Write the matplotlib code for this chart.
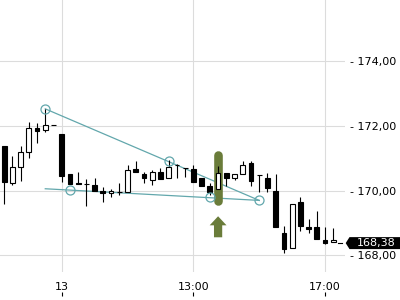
import numpy as np
import matplotlib
matplotlib.use("Agg")
import matplotlib.pyplot as plt
from matplotlib.patches import Polygon
from matplotlib.ticker import FuncFormatter
import matplotlib.transforms as mtransforms

# ---------------------------------------------------------------
# Data: 15-minute candles (index 0..40)
# ---------------------------------------------------------------
opens = [171.39, 170.24, 170.73, 171.20, 171.94, 171.88, 172.04, 171.76,
         170.53, 170.25, 170.21, 170.19, 170.00, 169.93, 169.96, 169.95,
         170.68, 170.53, 170.34, 170.57, 170.40, 170.78, 170.70, 170.67,
         170.40, 170.15, 170.06, 170.56, 170.40, 170.53, 170.87, 170.49,
         170.39, 170.00, 168.69, 168.22, 169.65, 168.87, 168.88, 168.49,
         168.41]
highs = [171.39, 171.08, 171.39, 172.13, 172.09, 172.53, 172.04, 171.76,
         170.53, 170.59, 170.36, 170.40, 170.11, 170.05, 170.24, 170.80,
         170.93, 170.57, 170.65, 170.70, 170.96, 170.83, 170.70, 170.81,
         170.40, 170.25, 170.75, 170.56, 170.53, 170.93, 170.92, 170.49,
         170.55, 170.53, 168.91, 169.60, 169.81, 169.13, 169.37, 168.88,
         168.86]
lows = [169.60, 170.19, 170.29, 171.00, 171.47, 171.81, 172.04, 170.26,
        170.22, 170.22, 169.54, 169.99, 169.66, 169.81, 169.88, 169.95,
        170.57, 170.25, 170.19, 170.37, 170.40, 170.40, 170.41, 170.27,
        170.16, 169.88, 170.06, 170.16, 170.34, 170.53, 170.16, 169.95,
        169.95, 168.88, 168.06, 168.22, 168.76, 168.69, 168.51, 168.35,
        168.41]
closes = [170.26, 170.72, 171.20, 171.94, 171.86, 172.04, 172.04, 170.44,
          170.22, 170.22, 170.21, 169.99, 169.93, 170.00, 169.96, 170.63,
          170.57, 170.38, 170.57, 170.37, 170.73, 170.78, 170.70, 170.27,
          170.16, 169.97, 170.55, 170.38, 170.53, 170.81, 170.30, 170.49,
          170.07, 168.88, 168.20, 169.60, 168.90, 168.83, 168.51, 168.37,
          168.48]

# x-axis labels (candle index -> label)
xtick_idx = [7, 23, 39]
xtick_labels = ["13", "13:00", "17:00"]
yticks = [168, 170, 172, 174]

# trend lines (start/end as (index, price)) and anchor circles
trend_upper = [(5, 172.53), (31, 169.70)]
trend_lower = [(5, 170.06), (31, 169.70)]
anchor_idx = [5, 20, 8, 25, 31]
anchor_price = [172.53, 170.92, 170.02, 169.79, 169.70]

signal_idx = 26          # highlighted candle with up arrow
last_price = 168.38

teal = "#62a7ac"
olive = "#6a7c3a"
grid_c = "#dcdcdc"

# ---------------------------------------------------------------
# Figure
# ---------------------------------------------------------------
fig = plt.figure(figsize=(4, 3), dpi=100)
ax = fig.add_axes([0, 28 / 300, 345 / 400, 272 / 300])
ax.set_xlim(-0.5, 41.42)
ax.set_ylim(167.487, 175.895)

for s in ax.spines.values():
    s.set_visible(False)

ax.set_yticks(yticks)
ax.yaxis.tick_right()
ax.yaxis.set_major_formatter(FuncFormatter(lambda v, p: "- " + f"{v:.2f}".replace(".", ",")))
ax.tick_params(axis="y", length=0, pad=3.3, labelsize=8)
ax.set_xticks(xtick_idx)
ax.set_xticklabels(xtick_labels)
ax.tick_params(axis="x", length=0, pad=7.5, labelsize=8)
ax.grid(True, color=grid_c, linewidth=0.8, zorder=0)
ax.set_axisbelow(True)

# trend lines
for pts in (trend_upper, trend_lower):
    xs, ys = zip(*pts)
    ax.plot(xs, ys, color=teal, linewidth=0.9, zorder=1)

# highlight bar behind the signal candle
ax.plot([signal_idx, signal_idx],
        [highs[signal_idx] + 0.36, lows[signal_idx] - 0.37],
        color=olive, linewidth=6.2, solid_capstyle="round", zorder=2)

# candles
idx = np.arange(len(opens))
o = np.array(opens)
c = np.array(closes)
ax.vlines(idx, lows, highs, color="black", linewidth=0.8, zorder=3)
body_col = ["black" if cc < oo else "white" for oo, cc in zip(o, c)]
ax.bar(idx, np.abs(c - o), bottom=np.minimum(o, c), width=0.58,
       color=body_col, edgecolor="black", linewidth=0.8, zorder=4)

# anchor circles
ax.plot(anchor_idx, anchor_price, "o", markersize=6.5, markerfacecolor="none",
        markeredgecolor=teal, markeredgewidth=0.9, zorder=5)

# up arrow under the signal candle
ax.arrow(signal_idx, lows[signal_idx] - 1.50, 0, 0.65, width=1.0,
         head_width=2.05, head_length=0.28, length_includes_head=True,
         color=olive, linewidth=0, zorder=5)

# last price marker: small dash + black tag
ax.plot([338 / 345, 342 / 345], [last_price, last_price], color="black",
        linewidth=0.8, transform=mtransforms.blended_transform_factory(ax.transAxes, ax.transData),
        clip_on=False)
tr = mtransforms.blended_transform_factory(fig.transFigure, ax.transData)
h = 0.185
tag = Polygon([(345.7 / 400, last_price), (349.5 / 400, last_price + h),
               (1.0, last_price + h), (1.0, last_price - h),
               (349.5 / 400, last_price - h)],
              closed=True, facecolor="black", edgecolor="none", transform=tr, zorder=10)
fig.add_artist(tag)
fig.text(376 / 400, last_price, f"{last_price:.2f}".replace(".", ","), color="white",
         fontsize=8, ha="center", va="center", transform=tr, zorder=11)

# x tick marks sit below the labels
ax2 = fig.add_axes([0, 4 / 300, 345 / 400, 24 / 300])
ax2.set_xlim(ax.get_xlim())
ax2.patch.set_visible(False)
for s in ax2.spines.values():
    s.set_visible(False)
ax2.set_yticks([])
ax2.set_xticks(xtick_idx)
ax2.set_xticklabels([])
ax2.tick_params(axis="x", direction="in", length=3, width=0.8, color="black")

fig.savefig("out.png", dpi=100)
